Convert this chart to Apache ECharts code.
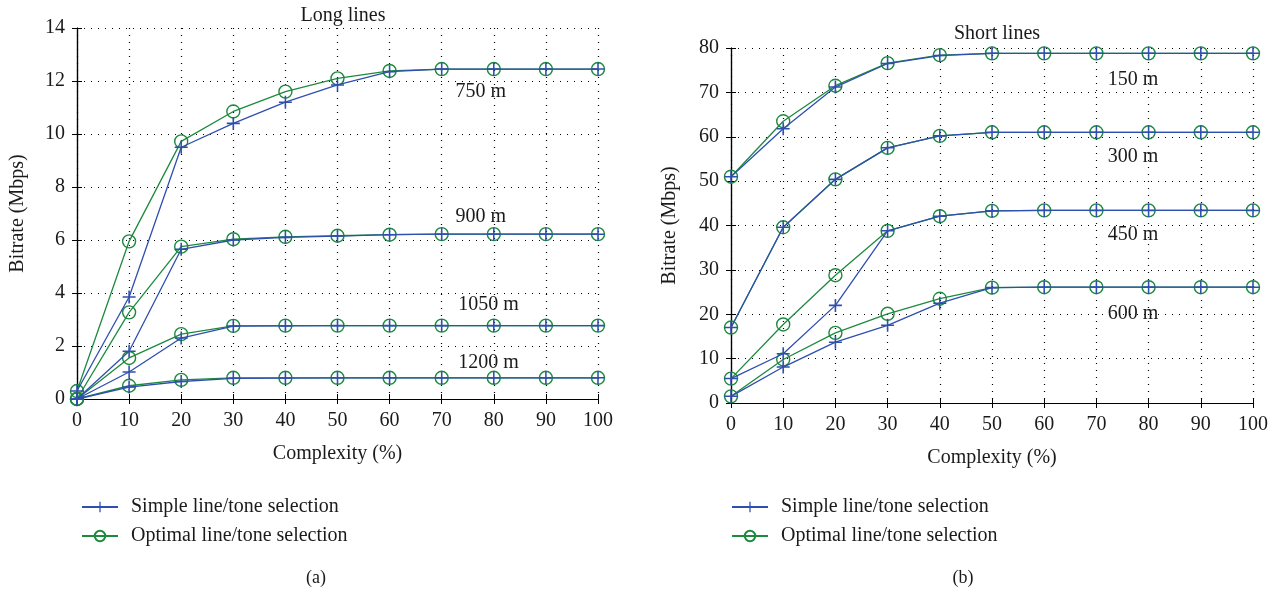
<!DOCTYPE html>
<html>
<head>
<meta charset="utf-8">
<script src="https://cdn.jsdelivr.net/npm/echarts@6/dist/echarts.min.js"></script>
<style>
    html, body {margin: 0; padding: 0; background: #fff;}
    #main {width: 1277px; height: 592px;}
</style>
</head>
<body>
<div id="main"></div>
<script>
// complexity (%)
let xs = [0, 10, 20, 30, 40, 50, 60, 70, 80, 90, 100];

// (a) long lines, bitrate in Mbps
let l750Simple = [0.3, 3.85, 9.5, 10.4, 11.2, 11.85, 12.35, 12.45, 12.45, 12.45, 12.45];
let l750Optimal = [0.3, 5.95, 9.72, 10.85, 11.6, 12.1, 12.38, 12.45, 12.45, 12.45, 12.45];
let l900Simple = [0, 1.8, 5.65, 6.0, 6.1, 6.15, 6.2, 6.22, 6.22, 6.22, 6.22];
let l900Optimal = [0, 3.27, 5.75, 6.03, 6.12, 6.16, 6.2, 6.22, 6.22, 6.22, 6.22];
let l1050Simple = [0, 1.02, 2.3, 2.75, 2.76, 2.77, 2.77, 2.77, 2.77, 2.77, 2.77];
let l1050Optimal = [0, 1.55, 2.45, 2.76, 2.77, 2.77, 2.77, 2.77, 2.77, 2.77, 2.77];
let l1200Simple = [0, 0.45, 0.66, 0.78, 0.79, 0.8, 0.8, 0.8, 0.8, 0.8, 0.8];
let l1200Optimal = [0, 0.5, 0.72, 0.8, 0.8, 0.8, 0.8, 0.8, 0.8, 0.8, 0.8];

// (b) short lines, bitrate in Mbps
let s150Simple = [51, 61.8, 71.2, 76.5, 78.3, 78.8, 78.8, 78.8, 78.8, 78.8, 78.8];
let s150Optimal = [51, 63.5, 71.5, 76.6, 78.4, 78.8, 78.8, 78.8, 78.8, 78.8, 78.8];
let s300Simple = [17, 39.6, 50.4, 57.5, 60.2, 61, 61, 61, 61, 61, 61];
let s300Optimal = [17, 39.6, 50.4, 57.5, 60.2, 61, 61, 61, 61, 61, 61];
let s450Simple = [5.5, 11.1, 22, 38.8, 42.1, 43.3, 43.4, 43.4, 43.4, 43.4, 43.4];
let s450Optimal = [5.5, 17.7, 28.8, 38.8, 42.1, 43.3, 43.4, 43.4, 43.4, 43.4, 43.4];
let s600Simple = [1.5, 8.1, 13.7, 17.5, 22.5, 26, 26.1, 26.1, 26.1, 26.1, 26.1];
let s600Optimal = [1.5, 9.8, 15.8, 20.1, 23.5, 26, 26.1, 26.1, 26.1, 26.1, 26.1];

// curve labels: [text, x, y] in data units
let longLabels = [['750 m', 77.5, 11.58], ['900 m', 77.5, 6.87], ['1050 m', 79, 3.55], ['1200 m', 79, 1.36]];
let shortLabels = [['150 m', 77, 72.9], ['300 m', 77, 55.6], ['450 m', 77, 38.0], ['600 m', 77, 20.2]];

let legendNames = ['Simple line/tone selection', 'Optimal line/tone selection'];

const BLUE = '#2f4fb0';
const GREEN = '#1d8a3e';
const TXT = '#1a1a1a';
const FONT = 'Liberation Serif';
const FS = 20;
const PLUS = 'path://M4.4,0H5.6V4.4H10V5.6H5.6V10H4.4V5.6H0V4.4H4.4Z';

function pairs(vals) {
    return xs.map(function (x, i) {
        return [x, vals[i]];
    });
}

function simple(vals, g) {
    return {
        name: legendNames[0], type: 'line', xAxisIndex: g * 2, yAxisIndex: g * 2,
        data: pairs(vals), symbol: PLUS, symbolSize: 13, z: 3,
        lineStyle: {color: BLUE, width: 1.3}, itemStyle: {color: BLUE},
        emphasis: {disabled: true}
    };
}

function optimal(vals, g) {
    return {
        name: legendNames[1], type: 'line', xAxisIndex: g * 2, yAxisIndex: g * 2,
        data: pairs(vals), symbol: 'circle', symbolSize: 13, z: 2,
        lineStyle: {color: GREEN, width: 1.3},
        itemStyle: {color: 'rgba(0,0,0,0)', borderColor: GREEN, borderWidth: 1.4},
        emphasis: {disabled: true}
    };
}

function labelSeries(list, g) {
    return {
        type: 'scatter', xAxisIndex: g * 2, yAxisIndex: g * 2, symbolSize: 0, z: 5,
        itemStyle: {color: TXT, opacity: 1},
        data: list.map(function (l) {
            return {value: [l[1], l[2]], name: l[0]};
        }),
        label: {
            show: true, position: 'inside', formatter: '{b}', color: TXT, fontFamily: FONT, fontSize: FS,
            opacity: 1, textBorderWidth: 0, textBorderColor: 'transparent'
        },
        silent: true
    };
}

let grids = [
    {left: 77, top: 28, width: 521, height: 371},
    {left: 731, top: 48, width: 522, height: 355}
];

let xAxes = [], yAxes = [];
let yRange = [[0, 14, 2], [0, 80, 10]];
[0, 1].forEach(function (g) {
    let axisLine = {show: true, lineStyle: {color: '#000', width: 1.2}};
    let tick = {show: true, inside: true, length: 5, lineStyle: {color: '#000'}};
    let split = {show: true, lineStyle: {color: '#000', type: [1, 6], width: 1.2}};
    let lbl = {color: TXT, fontFamily: FONT, fontSize: FS, margin: 12};
    xAxes.push({
        type: 'value', gridIndex: g, min: 0, max: 100, interval: 10, position: 'bottom',
        axisLine: axisLine, axisTick: tick, splitLine: split, axisLabel: lbl,
        name: 'Complexity (%)', nameLocation: 'middle', nameGap: 45,
        nameTextStyle: {color: TXT, fontFamily: FONT, fontSize: FS}
    });
    xAxes.push({
        type: 'value', gridIndex: g, min: 0, max: 100, interval: 10, position: 'top',
        axisLine: axisLine, axisTick: tick, splitLine: {show: false}, axisLabel: {show: false}
    });
    yAxes.push({
        type: 'value', gridIndex: g, min: yRange[g][0], max: yRange[g][1], interval: yRange[g][2], position: 'left',
        axisLine: axisLine, axisTick: tick, splitLine: split, axisLabel: lbl,
        name: 'Bitrate (Mbps)', nameLocation: 'middle', nameGap: g === 0 ? 49 : 51,
        nameTextStyle: {color: TXT, fontFamily: FONT, fontSize: FS}
    });
    yAxes.push({
        type: 'value', gridIndex: g, min: yRange[g][0], max: yRange[g][1], interval: yRange[g][2], position: 'right',
        axisLine: axisLine, axisTick: tick, splitLine: {show: false}, axisLabel: {show: false}
    });
});

let series = [
    optimal(l750Optimal, 0), simple(l750Simple, 0),
    optimal(l900Optimal, 0), simple(l900Simple, 0),
    optimal(l1050Optimal, 0), simple(l1050Simple, 0),
    simple(l1200Simple, 0), optimal(l1200Optimal, 0),
    optimal(s150Optimal, 1), simple(s150Simple, 1),
    optimal(s300Optimal, 1), simple(s300Simple, 1),
    optimal(s450Optimal, 1), simple(s450Simple, 1),
    optimal(s600Optimal, 1), simple(s600Simple, 1),
    labelSeries(longLabels, 0), labelSeries(shortLabels, 1)
];

function legend(left) {
    return {
        data: legendNames, orient: 'vertical', left: left, top: 492, itemGap: 9,
        itemWidth: 36, itemHeight: 13, selectedMode: false,
        textStyle: {color: TXT, fontFamily: FONT, fontSize: FS, padding: [0, 0, 0, 8]}
    };
}

let option = {
    backgroundColor: '#fff',
    animation: false,
    title: [
        {text: 'Long lines', left: 338, top: 1, textAlign: 'center',
            textStyle: {color: TXT, fontFamily: FONT, fontSize: FS, fontWeight: 'normal'}},
        {text: 'Short lines', left: 992, top: 19, textAlign: 'center',
            textStyle: {color: TXT, fontFamily: FONT, fontSize: FS, fontWeight: 'normal'}},
        {text: '(a)', left: 311, top: 564, textAlign: 'center',
            textStyle: {color: TXT, fontFamily: FONT, fontSize: 18, fontWeight: 'normal'}},
        {text: '(b)', left: 958, top: 564, textAlign: 'center',
            textStyle: {color: TXT, fontFamily: FONT, fontSize: 18, fontWeight: 'normal'}}
    ],
    legend: [legend(76), legend(726)],
    grid: grids,
    xAxis: xAxes,
    yAxis: yAxes,
    series: series
};

let chart = echarts.init(document.getElementById('main'));
chart.setOption(option);
</script>
</body>
</html>
